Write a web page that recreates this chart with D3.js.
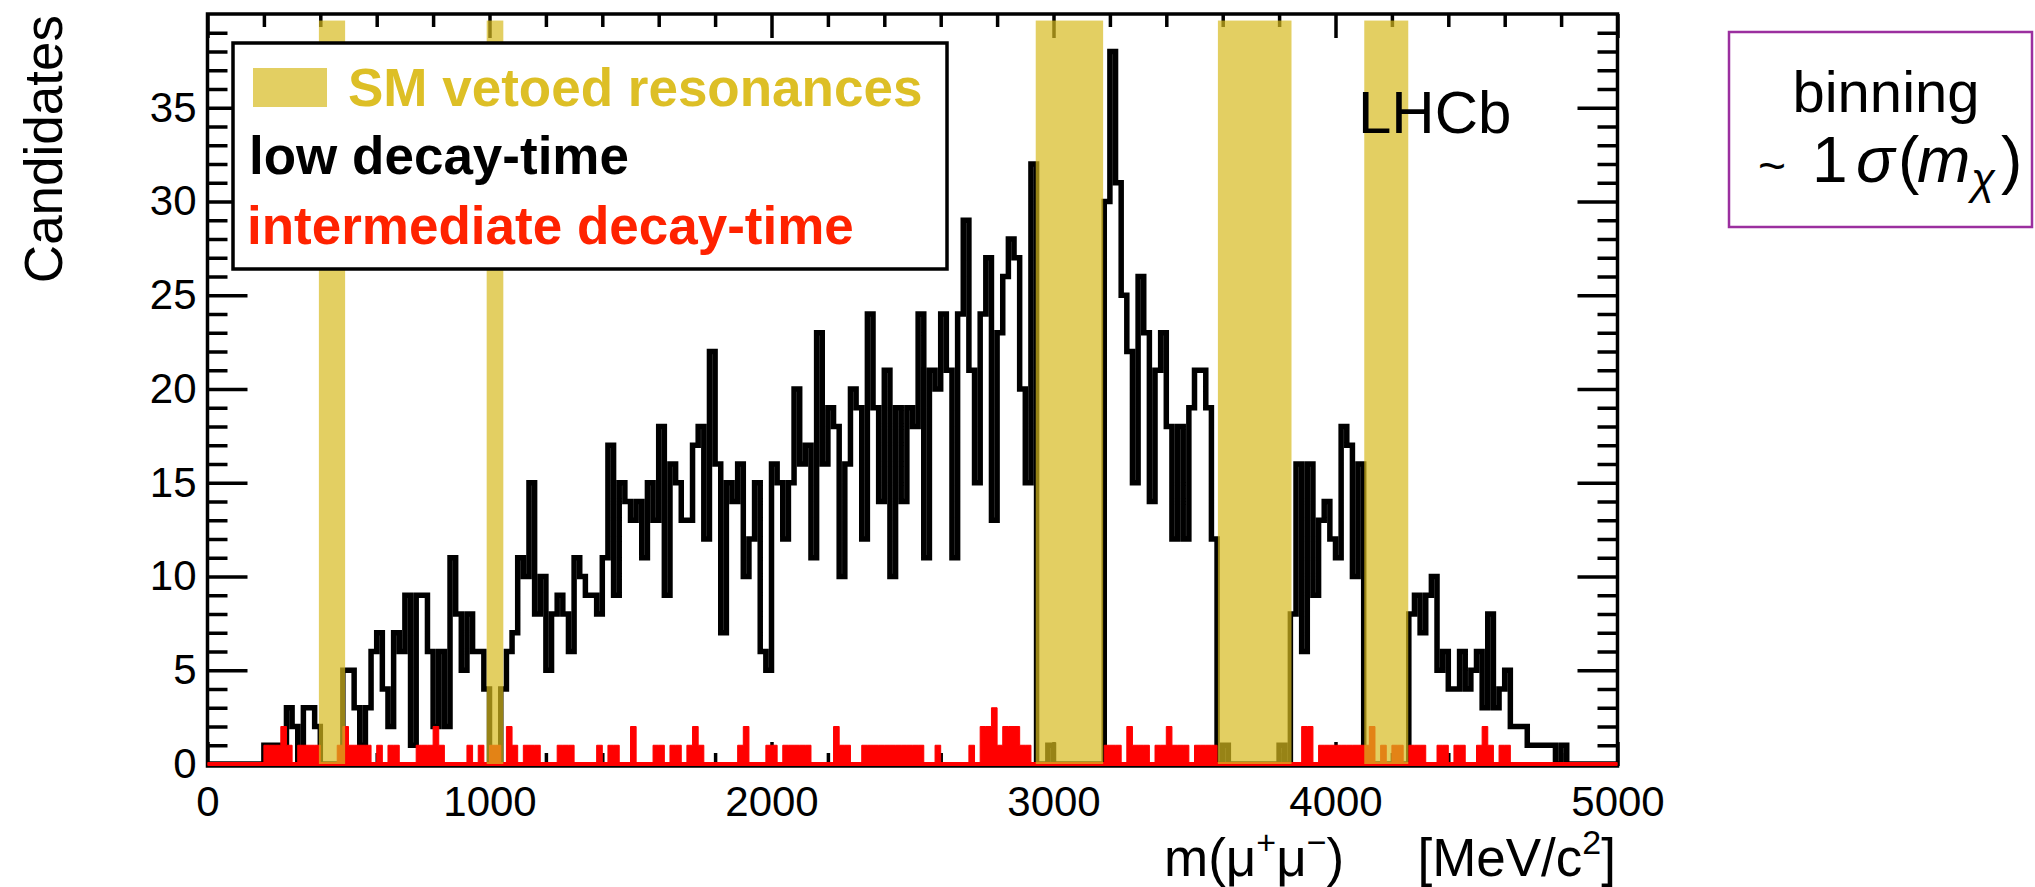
<!DOCTYPE html>
<html>
<head>
<meta charset="utf-8">
<script src="https://cdn.jsdelivr.net/npm/d3@7"></script>
<style>
  body { margin: 0; background: #fff; }
  svg text { font-family: "Liberation Sans", Arial, Helvetica, sans-serif; }
</style>
</head>
<body>
<div id="chart"></div>
<script>
// Histogram bin width in MeV/c2, bins start at 0
var binWidth = 20;

// low decay-time candidates per bin (rows of 10 bins = 200 MeV)
var lowCounts = [
  0, 0, 0, 0, 0, 0, 0, 0, 0, 0,
  1, 1, 1, 1, 3, 2, 0, 3, 3, 2,
  0, 0, 0, 0, 5, 5, 3, 1, 3, 6,
  7, 4, 2, 7, 6, 9, 1, 9, 9, 6,
  2, 6, 2, 11, 8, 5, 8, 6, 6, 4,
  0, 0, 4, 6, 7, 11, 10, 15, 8, 10,
  5, 8, 9, 8, 6, 11, 10, 9, 9, 8,
  11, 17, 9, 15, 14, 13, 14, 11, 15, 13,
  18, 9, 16, 15, 13, 13, 17, 18, 12, 22,
  16, 7, 15, 14, 16, 10, 12, 15, 6, 5,
  16, 15, 12, 15, 20, 16, 17, 11, 23, 16,
  19, 18, 10, 16, 20, 19, 12, 24, 19, 14,
  21, 10, 19, 14, 19, 18, 24, 11, 21, 20,
  24, 21, 11, 24, 29, 21, 15, 24, 27, 13,
  23, 26, 28, 27, 20, 15, 32, 0, 0, 1,
  0, 0, 0, 0, 0, 0, 0, 0, 0, 30,
  38, 31, 25, 22, 15, 26, 23, 14, 21, 23,
  18, 12, 18, 12, 19, 21, 21, 19, 12, 0,
  1, 0, 0, 0, 0, 0, 0, 0, 0, 0,
  1, 0, 8, 16, 6, 16, 9, 13, 14, 12,
  11, 18, 17, 10, 16, 0, 0, 0, 0, 0,
  0, 0, 0, 8, 9, 7, 9, 10, 5, 6,
  4, 4, 6, 4, 5, 6, 3, 8, 3, 4,
  5, 2, 2, 2, 1, 1, 1, 1, 1, 0,
  1, 0, 0, 0, 0, 0, 0, 0, 0, 0
];

// intermediate decay-time candidates per bin
var midCounts = [
  0, 0, 0, 0, 0, 0, 0, 0, 0, 0,
  1, 1, 1, 2, 1, 0, 1, 1, 1, 1,
  0, 0, 0, 1, 2, 1, 1, 1, 1, 0,
  1, 0, 1, 1, 0, 0, 0, 1, 1, 1,
  2, 1, 0, 0, 0, 0, 1, 0, 1, 0,
  1, 1, 0, 2, 1, 0, 1, 1, 1, 0,
  0, 0, 1, 1, 1, 0, 0, 0, 0, 1,
  0, 1, 1, 0, 0, 2, 0, 0, 0, 1,
  1, 0, 1, 1, 0, 1, 2, 1, 0, 0,
  0, 0, 0, 0, 1, 2, 0, 0, 0, 1,
  1, 0, 1, 1, 1, 1, 1, 0, 0, 0,
  0, 2, 1, 1, 0, 0, 1, 1, 1, 1,
  1, 1, 1, 1, 1, 1, 1, 0, 0, 1,
  0, 0, 0, 0, 0, 1, 0, 2, 2, 3,
  1, 2, 2, 2, 1, 1, 0, 0, 0, 0,
  0, 0, 0, 0, 0, 0, 0, 0, 0, 1,
  1, 1, 0, 2, 1, 1, 1, 0, 1, 1,
  2, 1, 1, 1, 0, 1, 1, 1, 1, 0,
  0, 0, 0, 0, 0, 0, 0, 0, 0, 0,
  0, 0, 0, 0, 2, 2, 0, 1, 1, 1,
  1, 1, 1, 1, 1, 1, 2, 0, 1, 0,
  1, 1, 0, 1, 1, 1, 0, 0, 1, 1,
  0, 1, 1, 0, 0, 1, 2, 1, 0, 1,
  1, 0, 0, 0, 0, 0, 0, 0, 0, 0,
  0, 0, 0, 0, 0, 0, 0, 0, 0, 0
];

// vetoed SM resonance windows [low, high] in MeV/c2
var vetoBands = [[395, 488], [990, 1049], [2937, 3176], [3583, 3844], [4102, 4258]];

var xMajorTicks = [0, 1000, 2000, 3000, 4000, 5000];
var yMajorTicks = [0, 5, 10, 15, 20, 25, 30, 35];
var xMinorTicks = d3.range(0, 5001, 200).filter(d => d % 1000 !== 0);
var yMinorTicks = d3.range(0, 41, 1).filter(d => d % 5 !== 0);

var svgWidth = 2035;
var svgHeight = 887;
var margin = { top: 14, left: 207.5 };
var width = 1410;
var height = 750;

var svg = d3.select("#chart")
  .append("svg")
  .attr("width", svgWidth)
  .attr("height", svgHeight);

var chartGroup = svg.append("g")
  .attr("transform", `translate(${margin.left}, ${margin.top})`);

var xScale = d3.scaleLinear().domain([0, 5000]).range([0, width]);
var yScale = d3.scaleLinear().domain([0, 40]).range([height, 0]);

// axes: inward ticks on all four sides
function addAxis(axis, transform, values, size, withLabels, pad) {
  var g = chartGroup.append("g")
    .attr("transform", transform)
    .call(axis.tickValues(values)
      .tickSizeInner(-size)
      .tickSizeOuter(0)
      .tickPadding(pad || 0)
      .tickFormat(withLabels ? d3.format("d") : ""));
  g.attr("font-size", 42)
    .attr("font-family", "Liberation Sans, Arial, sans-serif");
  g.select(".domain").remove();
  if (!withLabels) g.selectAll(".tick text").remove();
  g.selectAll(".tick line").attr("stroke", "#000").attr("stroke-width", 3.5);
  return g;
}

var bottomY = height + 2;
addAxis(d3.axisLeft(yScale), "translate(0,0)", yMajorTicks, 40, true, 11);
addAxis(d3.axisLeft(yScale), "translate(0,0)", yMinorTicks, 20, false);
addAxis(d3.axisRight(yScale), `translate(${width},0)`, yMajorTicks, 40, false);
addAxis(d3.axisRight(yScale), `translate(${width},0)`, yMinorTicks, 20, false);
addAxis(d3.axisTop(xScale), "translate(0,0)", xMajorTicks, 24, false);
addAxis(d3.axisTop(xScale), "translate(0,0)", xMinorTicks, 13, false);
addAxis(d3.axisBottom(xScale), `translate(0,${bottomY})`, xMajorTicks, 24, true, 20);
addAxis(d3.axisBottom(xScale), `translate(0,${bottomY})`, xMinorTicks, 13, false);

// frame
chartGroup.append("rect")
  .attr("x", 0)
  .attr("y", 0)
  .attr("width", width)
  .attr("height", bottomY)
  .attr("fill", "none")
  .attr("stroke", "#000")
  .attr("stroke-width", 3.5);

// histogram points (step after), closing with the last edge
function histPoints(counts) {
  var pts = counts.map((c, i) => [i * binWidth, c]);
  pts.push([counts.length * binWidth, counts[counts.length - 1]]);
  return pts;
}

var stepLine = d3.line()
  .x(d => xScale(d[0]))
  .y(d => yScale(d[1]))
  .curve(d3.curveStepAfter);

var stepArea = d3.area()
  .x(d => xScale(d[0]))
  .y0(yScale(0))
  .y1(d => yScale(d[1]))
  .curve(d3.curveStepAfter);

chartGroup.append("path")
  .datum(histPoints(lowCounts))
  .attr("d", stepLine)
  .attr("fill", "none")
  .attr("stroke", "#000")
  .attr("stroke-width", 5.5)
  .attr("stroke-linejoin", "miter");

chartGroup.append("path")
  .datum(histPoints(midCounts))
  .attr("d", stepArea)
  .attr("fill", "#ff0000")
  .attr("stroke", "#ff0000")
  .attr("stroke-width", 1);

chartGroup.append("line")
  .attr("x1", xScale(0))
  .attr("x2", xScale(5000))
  .attr("y1", yScale(0))
  .attr("y2", yScale(0))
  .attr("stroke", "#ff0000")
  .attr("stroke-width", 4);

// experiment label (sits under the veto bands)
svg.append("text")
  .attr("x", 1358)
  .attr("y", 133)
  .attr("font-size", 60)
  .text("LHCb");

// veto bands, semi transparent on top of the histograms
chartGroup.selectAll(".veto")
  .data(vetoBands)
  .enter()
  .append("rect")
  .attr("class", "veto")
  .attr("x", d => xScale(d[0]))
  .attr("width", d => xScale(d[1]) - xScale(d[0]))
  .attr("y", yScale(39.65))
  .attr("height", yScale(0) - yScale(39.65))
  .attr("fill", "#d7ba20")
  .attr("fill-opacity", 0.7);

// legend
var legend = svg.append("g");
legend.append("rect")
  .attr("x", 233).attr("y", 43)
  .attr("width", 714).attr("height", 226)
  .attr("fill", "#fff")
  .attr("stroke", "#000")
  .attr("stroke-width", 3.5);
legend.append("rect")
  .attr("x", 253).attr("y", 68)
  .attr("width", 74).attr("height", 39)
  .attr("fill", "#d7ba20")
  .attr("fill-opacity", 0.7);
legend.append("text")
  .attr("x", 348).attr("y", 106)
  .attr("font-size", 53).attr("font-weight", "bold")
  .attr("fill", "#ddbf26")
  .text("SM vetoed resonances");
legend.append("text")
  .attr("x", 249).attr("y", 174)
  .attr("font-size", 53).attr("font-weight", "bold")
  .attr("fill", "#000")
  .text("low decay-time");
legend.append("text")
  .attr("x", 247).attr("y", 244)
  .attr("font-size", 53).attr("font-weight", "bold")
  .attr("fill", "#ff2200")
  .text("intermediate decay-time");

// axis titles
svg.append("text")
  .attr("transform", "translate(62, 15) rotate(-90)")
  .attr("text-anchor", "end")
  .attr("font-size", 53)
  .text("Candidates");

var xTitle = svg.append("text")
  .attr("x", 1164)
  .attr("y", 876)
  .attr("font-size", 53);
xTitle.append("tspan").text("m(\u03bc");
xTitle.append("tspan").attr("font-size", 34).attr("dy", -22).text("+");
xTitle.append("tspan").attr("dy", 22).text("\u03bc");
xTitle.append("tspan").attr("font-size", 34).attr("dy", -22).text("\u2212");
xTitle.append("tspan").attr("dy", 22).text(")");

var unitTitle = svg.append("text")
  .attr("x", 1616)
  .attr("y", 876)
  .attr("text-anchor", "end")
  .attr("font-size", 53);
unitTitle.append("tspan").text("[MeV/c");
unitTitle.append("tspan").attr("font-size", 34).attr("dy", -22).text("2");
unitTitle.append("tspan").attr("dy", 22).text("]");

// binning note
var note = svg.append("g");
note.append("rect")
  .attr("x", 1729).attr("y", 32)
  .attr("width", 303).attr("height", 195)
  .attr("fill", "#fff")
  .attr("stroke", "#9b2f9f")
  .attr("stroke-width", 2.5);
note.append("text")
  .attr("x", 1886).attr("y", 112)
  .attr("text-anchor", "middle")
  .attr("font-family", "Roboto, Liberation Sans, sans-serif")
  .attr("font-weight", 300)
  .attr("font-size", 58)
  .text("binning");
note.append("text")
  .attr("x", 1758).attr("y", 182)
  .attr("font-family", "Roboto, Liberation Sans, sans-serif")
  .attr("font-weight", 300)
  .attr("font-size", 48)
  .text("~");
note.append("text")
  .attr("x", 1812).attr("y", 182)
  .attr("font-family", "Roboto, Liberation Sans, sans-serif")
  .attr("font-weight", 300)
  .attr("font-size", 64)
  .text("1");
var math = note.append("text")
  .attr("y", 182)
  .attr("font-family", "Liberation Serif, DejaVu Serif, serif")
  .attr("font-size", 64);
math.append("tspan").attr("x", 1856).attr("font-style", "italic").text("\u03c3");
math.append("tspan").attr("x", 1898).text("(");
math.append("tspan").attr("x", 1917).attr("font-style", "italic").text("m");
math.append("tspan").attr("x", 1971).attr("dy", 12).attr("font-size", 44).attr("font-style", "italic").text("\u03c7");
math.append("tspan").attr("x", 2001).attr("dy", -12).text(")");
</script>
</body>
</html>
